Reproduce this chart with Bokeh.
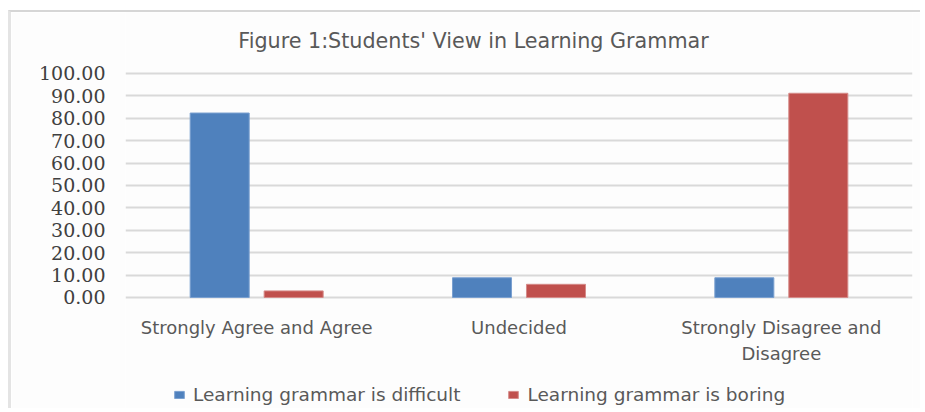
from bokeh.plotting import figure
from bokeh.models import (ColumnDataSource, Range1d, FactorRange, Legend, LegendItem,
                          NumeralTickFormatter, FixedTicker, Label)
from bokeh.transform import dodge
from bokeh.embed import file_html
from bokeh.resources import INLINE

# ---- data ----
categories = ["Strongly Agree and Agree", "Undecided", "Strongly Disagree and\nDisagree"]
difficult = [82.35, 8.82, 8.82]
boring = [2.94, 5.88, 91.18]
series_names = ["Learning grammar is difficult", "Learning grammar is boring"]
y_ticks = [0, 10, 20, 30, 40, 50, 60, 70, 80, 90, 100]
title_text = "Figure 1:Students' View in Learning Grammar"

BLUE = "#4F81BD"
RED = "#C0504D"
SANS = "DejaVu Sans"

src = ColumnDataSource(dict(cat=categories, difficult=difficult, boring=boring))

# frame spans the full canvas height; value axis 0..100 occupies the middle
p = figure(
    width=912, height=398,
    x_range=FactorRange(*categories, range_padding=0),
    y_range=Range1d(-50.45, 127.23),
    output_backend="svg", toolbar_location=None,
    min_border_left=114, min_border_right=11, min_border_top=0, min_border_bottom=0,
    background_fill_color="#fdfdfd", border_fill_color="#fdfdfd",
    outline_line_color=None,
    styles={"margin-top": "10px", "margin-left": "8px",
            "border-left": "3px solid #e4e4e4", "border-top": "2px solid #d6d6d6"},
)

r1 = p.vbar(x=dodge("cat", -0.141, range=p.x_range), top="difficult", width=0.225,
            source=src, fill_color=BLUE, line_color="#7AA0D0", line_width=1)
r2 = p.vbar(x=dodge("cat", 0.141, range=p.x_range), top="boring", width=0.225,
            source=src, fill_color=RED, line_color="#D58A88", line_width=1)

# title
p.add_layout(Label(x=1.3266, y=114.7, text=title_text, text_align="center",
                   text_baseline="middle", text_font=SANS, text_font_size="20.7px",
                   text_color="#595959"))

# axes
p.yaxis.ticker = FixedTicker(ticks=y_ticks)
p.yaxis.formatter = NumeralTickFormatter(format="0.00")
p.yaxis.axis_line_color = None
p.yaxis.major_tick_line_color = None
p.yaxis.minor_tick_line_color = None
p.yaxis.major_label_text_font = "DejaVu Serif"
p.yaxis.major_label_text_font_size = "19px"
p.yaxis.major_label_text_color = "#404040"
p.yaxis.major_label_standoff = 14

p.xaxis.fixed_location = 0
p.xaxis.axis_line_color = None
p.xaxis.major_tick_line_color = None
p.xaxis.minor_tick_line_color = None
p.xaxis.major_label_text_font = SANS
p.xaxis.major_label_text_font_size = "18px"
p.xaxis.major_label_text_color = "#595959"
p.xaxis.major_label_standoff = 14

p.xgrid.grid_line_color = None
p.ygrid.grid_line_color = "#d9d9d9"
p.ygrid.grid_line_width = 2

# legend
legend = Legend(items=[LegendItem(label=series_names[0], renderers=[r1]),
                       LegendItem(label=series_names[1], renderers=[r2])],
                orientation="horizontal", location=(48, 5),
                glyph_width=12, glyph_height=9, label_standoff=8, spacing=47,
                padding=0, margin=0, border_line_color=None,
                background_fill_alpha=0, label_text_font=SANS,
                label_text_font_size="18.5px", label_text_color="#595959",
                label_height=20)
p.add_layout(legend, "center")

open("out.html", "w").write(file_html(p, INLINE))
